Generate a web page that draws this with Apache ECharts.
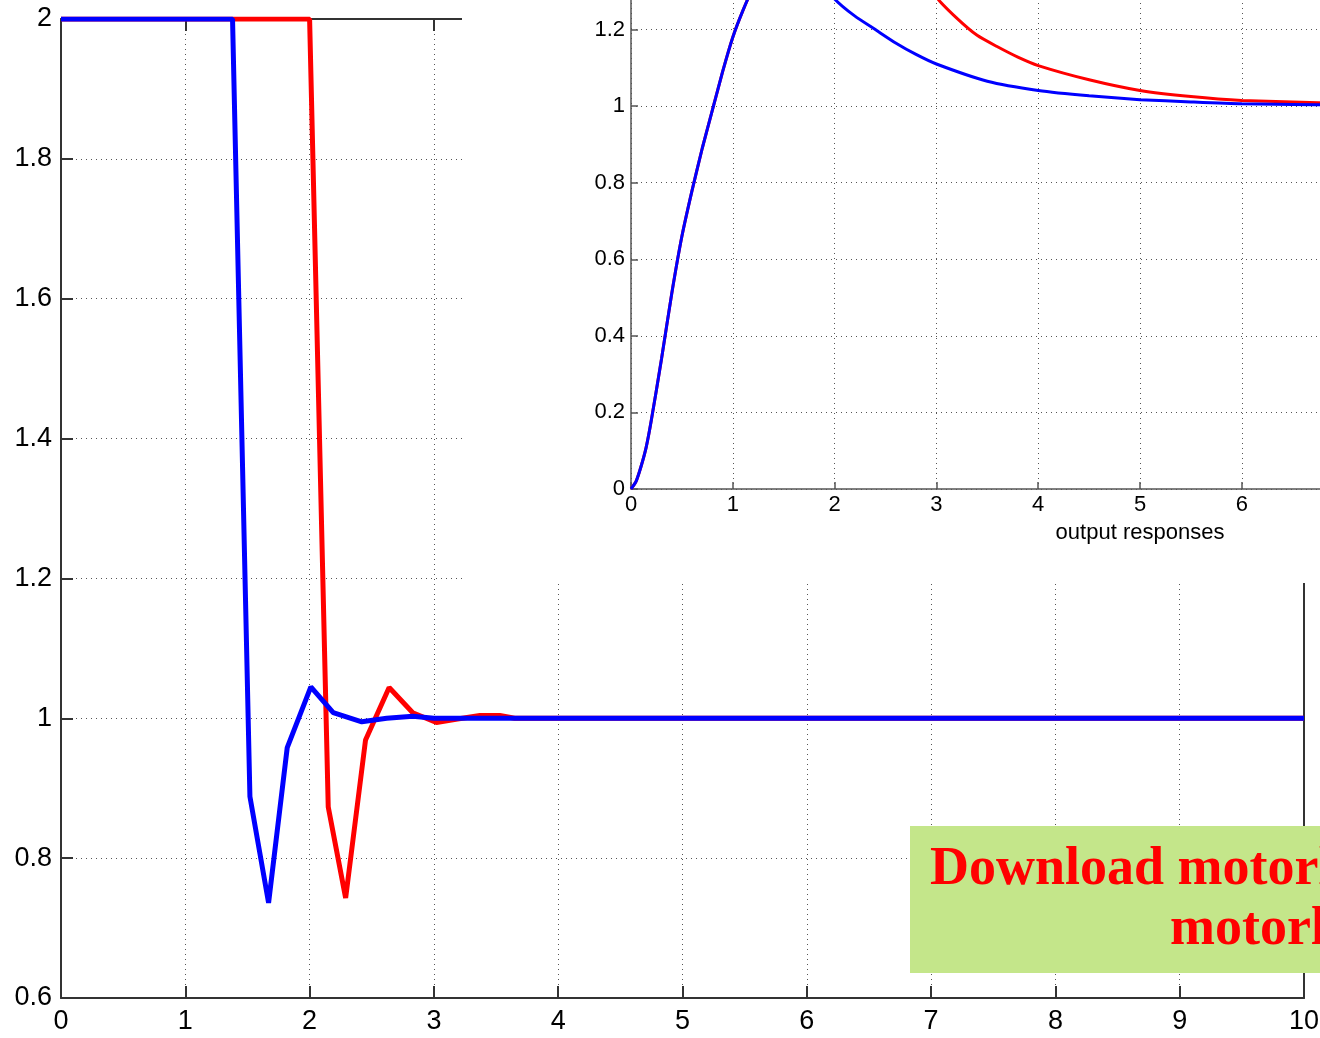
<!DOCTYPE html>
<html>
<head>
<meta charset="utf-8">
<script src="https://cdn.jsdelivr.net/npm/echarts@6/dist/echarts.min.js"></script>
<style>
  html, body { margin: 0; padding: 0; background: #fff; overflow: hidden; }
  #main { position: absolute; left: 0; top: 0; width: 1320px; height: 1038px; }
  #insetWrap { position: absolute; left: 462px; top: 0; width: 858px; height: 583px; background: #fff; overflow: hidden; }
  #inset { position: absolute; left: 0; top: -60px; width: 1300px; height: 643px; }
</style>
</head>
<body>
<div id="main"></div>
<div id="insetWrap"><div id="inset"></div></div>
<script>
// main plot: step responses (time, output)
const redT  = [0, 2.0, 2.15, 2.29, 2.45, 2.64, 2.83, 3.02, 3.19, 3.37, 3.53, 3.65, 10];
const redY  = [2, 2, 0.873, 0.743, 0.969, 1.044, 1.008, 0.994, 0.999, 1.004, 1.004, 1.0, 1.0];
const blueT = [0, 1.38, 1.52, 1.67, 1.82, 2.01, 2.19, 2.42, 2.62, 2.83, 3.0, 10];
const blueY = [2, 2, 0.888, 0.736, 0.958, 1.045, 1.008, 0.995, 1.0, 1.003, 1.0, 1.0];

// inset plot: output responses
const insRedT  = [0, 0.05, 0.1, 0.15, 0.2, 0.3, 0.4, 0.5, 0.6, 0.7, 0.8, 0.9, 1.0, 1.1, 1.2, 1.4, 1.6, 2.0, 2.4, 2.8, 3.0, 3.2, 3.4, 3.6, 3.8, 4.0, 4.5, 5.0, 5.5, 6.0, 7, 8, 9, 10];
const insRedY  = [0, 0.02, 0.06, 0.11, 0.18, 0.34, 0.51, 0.66, 0.78, 0.89, 0.99, 1.09, 1.18, 1.25, 1.31, 1.42, 1.5, 1.6, 1.55, 1.38, 1.285, 1.23, 1.185, 1.155, 1.128, 1.106, 1.069, 1.041, 1.025, 1.015, 1.007, 1.003, 1.001, 1.0];
const insBlueT = [0, 0.05, 0.1, 0.15, 0.2, 0.3, 0.4, 0.5, 0.6, 0.7, 0.8, 0.9, 1.0, 1.1, 1.2, 1.4, 1.6, 1.8, 2.0, 2.2, 2.4, 2.6, 2.8, 3.0, 3.5, 4.0, 4.5, 5.0, 5.5, 6.0, 7, 8, 10];
const insBlueY = [0, 0.02, 0.06, 0.11, 0.18, 0.34, 0.51, 0.66, 0.78, 0.89, 0.99, 1.09, 1.18, 1.25, 1.31, 1.39, 1.40, 1.35, 1.28, 1.235, 1.20, 1.165, 1.135, 1.11, 1.065, 1.041, 1.027, 1.017, 1.011, 1.006, 1.003, 1.001, 1.0];

const mainXTicks = [0, 10, 1];
const mainYTicks = [0.6, 2, 0.2];

function pairs(t, y) { return t.map((v, i) => [v, y[i]]); }

const axisCol = '#333';
const gridLine = { show: true, lineStyle: { color: '#555', width: 1, type: [1, 4] } };
const font = 'Liberation Sans';

const mainChart = echarts.init(document.getElementById('main'));
mainChart.setOption({
    animation: false,
    grid: { left: 61, top: 19, right: 16, bottom: 40, outerBoundsMode: 'none' },
    xAxis: [{
        type: 'value', min: mainXTicks[0], max: mainXTicks[1], interval: mainXTicks[2],
        axisLine: { onZero: false, lineStyle: { color: axisCol, width: 2 } },
        axisTick: { inside: true, length: 12, lineStyle: { color: axisCol, width: 2 } },
        axisLabel: { fontSize: 27, color: '#000', fontFamily: font, margin: 10 },
        splitLine: gridLine
    }, {
        type: 'value', position: 'top', min: mainXTicks[0], max: mainXTicks[1], interval: mainXTicks[2],
        axisLine: { show: true, onZero: false, lineStyle: { color: axisCol, width: 2 } },
        axisTick: { show: true, inside: true, length: 12, lineStyle: { color: axisCol, width: 2 } },
        axisLabel: { show: false },
        splitLine: { show: false }
    }],
    yAxis: [{
        type: 'value', min: mainYTicks[0], max: mainYTicks[1], interval: mainYTicks[2],
        axisLine: { show: true, onZero: false, lineStyle: { color: axisCol, width: 2 } },
        axisTick: { show: true, inside: true, length: 12, lineStyle: { color: axisCol, width: 2 } },
        axisLabel: { fontSize: 27, color: '#000', fontFamily: font, margin: 9 },
        splitLine: gridLine
    }, {
        type: 'value', position: 'right', min: mainYTicks[0], max: mainYTicks[1], interval: mainYTicks[2],
        axisLine: { show: true, onZero: false, lineStyle: { color: axisCol, width: 2 } },
        axisTick: { show: true, inside: true, length: 12, lineStyle: { color: axisCol, width: 2 } },
        axisLabel: { show: false },
        splitLine: { show: false }
    }],
    series: [{
        type: 'line', data: pairs(redT, redY), showSymbol: false,
        lineStyle: { color: '#ff0000', width: 5 }
    }, {
        type: 'line', data: pairs(blueT, blueY), showSymbol: false,
        lineStyle: { color: '#0000ff', width: 5 }
    }],
    graphic: [{
        type: 'rect', z: 100,
        shape: { x: 910, y: 826, width: 420, height: 147 },
        style: { fill: '#c4e68a' }
    }, {
        type: 'text', z: 101,
        style: { x: 930, y: 870, text: 'Download motorl', fill: '#ff0000',
                 font: 'bold 54px "Liberation Serif"', verticalAlign: 'middle' }
    }, {
        type: 'text', z: 101,
        style: { x: 1170, y: 930, text: 'motorl', fill: '#ff0000',
                 font: 'bold 54px "Liberation Serif"', verticalAlign: 'middle' }
    }]
});

const insetChart = echarts.init(document.getElementById('inset'));
const insAxisCol = '#555';
insetChart.setOption({
    animation: false,
    grid: { left: 169, top: 13, width: 1018, height: 536, outerBoundsMode: 'none' },
    xAxis: {
        type: 'value', min: 0, max: 10, interval: 1,
        name: 'output responses', nameLocation: 'middle', nameGap: 33,
        nameTextStyle: { fontSize: 22, color: '#000', fontFamily: font },
        axisLine: { onZero: false, lineStyle: { color: insAxisCol, width: 1.5 } },
        axisTick: { inside: true, length: 7, lineStyle: { color: insAxisCol, width: 1.5 } },
        axisLabel: { fontSize: 22, color: '#000', fontFamily: font, margin: 5 },
        splitLine: gridLine
    },
    yAxis: {
        type: 'value', min: 0, max: 1.4, interval: 0.2,
        axisLine: { show: true, onZero: false, lineStyle: { color: insAxisCol, width: 1.5 } },
        axisTick: { show: true, inside: true, length: 7, lineStyle: { color: insAxisCol, width: 1.5 } },
        axisLabel: { fontSize: 22, color: '#000', fontFamily: font, margin: 6 },
        splitLine: gridLine
    },
    series: [{
        type: 'line', data: pairs(insRedT, insRedY), showSymbol: false, smooth: 0.2,
        lineStyle: { color: '#ff0000', width: 3 }
    }, {
        type: 'line', data: pairs(insBlueT, insBlueY), showSymbol: false, smooth: 0.2,
        lineStyle: { color: '#0000ff', width: 3 }
    }]
});
</script>
</body>
</html>
